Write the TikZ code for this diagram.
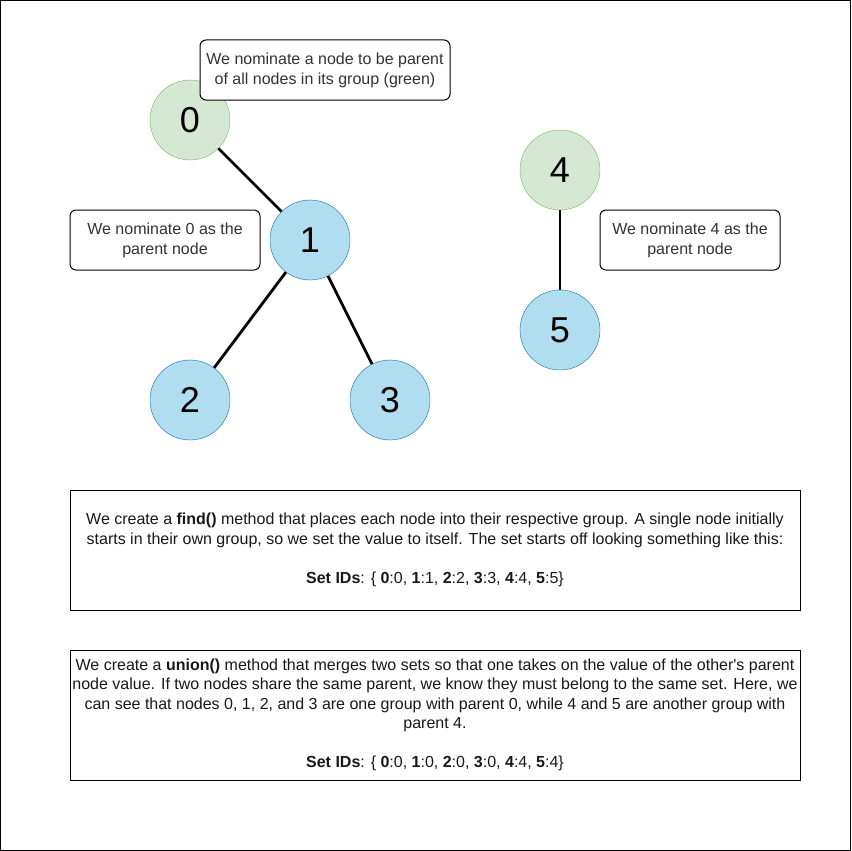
\documentclass[tikz,border=0pt]{standalone}
\usepackage{fontspec}
\setmainfont{Liberation Sans}
\usetikzlibrary{positioning}

\definecolor{grpfill}{HTML}{D5E8D4}
\definecolor{grpline}{HTML}{82B366}
\definecolor{kidfill}{HTML}{B1DDF0}
\definecolor{kidline}{HTML}{10739E}

\begin{document}
\begin{tikzpicture}[
    x=1pt, y=-1pt,
    parentnode/.style={circle, draw=grpline, fill=grpfill, minimum size=80pt, inner sep=0pt, font=\fontsize{36}{40}\selectfont},
    childnode/.style={circle, draw=kidline, fill=kidfill, minimum size=80pt, inner sep=0pt, font=\fontsize{36}{40}\selectfont},
    note/.style={rectangle, draw, fill=white, rounded corners=6pt, line width=1pt, align=center, inner sep=0pt, text=black!80, font=\fontsize{16}{20}\selectfont},
    infobox/.style={rectangle, draw, fill=white, line width=1pt, minimum width=730pt, align=center, inner sep=0pt, text=black!90, font=\fontsize{16}{19.5}\selectfont},
    link/.style={line width=2.8pt}
]
\useasboundingbox (0,0) rectangle (851,851);
\draw[line width=1pt] (0.5,0.5) rectangle (850.5,850.5);

% first group
\node[parentnode] (n0) at (190,120) {0};
\node[childnode] (n1) at (310,240) {1};
\node[childnode] (n2) at (190,400) {2};
\node[childnode] (n3) at (390,400) {3};

% second group
\node[parentnode] (n4) at (560,170) {4};
\node[childnode] (n5) at (560,330) {5};

\draw[link] (n0) -- (n1);
\draw[link] (n1) -- (n2);
\draw[link] (n1) -- (n3);
\draw[link] (n4) -- (n5);

% callouts
\node[note, minimum width=250pt, minimum height=60pt] (topnote) at (325,70) {We nominate a node to be parent\\of all nodes in its group (green)};
\node[note, minimum width=190pt, minimum height=60pt] (leftnote) at (165,240) {We nominate 0 as the\\parent node};
\node[note, minimum width=180pt, minimum height=60pt] (rightnote) at (690,240) {We nominate 4 as the\\parent node};

% explanations
\node[infobox, minimum height=120pt] (findbox) at (435,550) {We create a \textbf{find()} method that places each node into their respective group. A single node initially\\starts in their own group, so we set the value to itself. The set starts off looking something like this:\\[19.5pt]\textbf{Set IDs}: \{ \textbf{0}:0, \textbf{1}:1, \textbf{2}:2, \textbf{3}:3, \textbf{4}:4, \textbf{5}:5\}};
\node[infobox, minimum height=130pt] (unionbox) at (435,715) {We create a \textbf{union()} method that merges two sets so that one takes on the value of the other\textquotesingle s parent\\node value. If two nodes share the same parent, we know they must belong to the same set. Here, we\\can see that nodes 0, 1, 2, and 3 are one group with parent 0, while 4 and 5 are another group with\\parent 4.\\[19.5pt]\textbf{Set IDs}: \{ \textbf{0}:0, \textbf{1}:0, \textbf{2}:0, \textbf{3}:0, \textbf{4}:4, \textbf{5}:4\}};
\end{tikzpicture}
\end{document}
